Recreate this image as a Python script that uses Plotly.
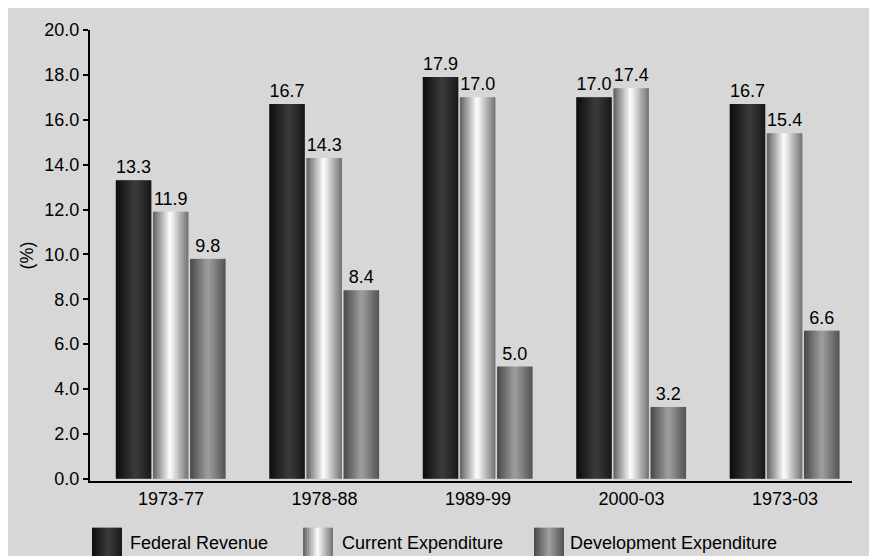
import plotly.graph_objects as go

categories = ["1973-77", "1978-88", "1989-99", "2000-03", "1973-03"]
federal_revenue = [13.3, 16.7, 17.9, 17.0, 16.7]
current_expenditure = [11.9, 14.3, 17.0, 17.4, 15.4]
development_expenditure = [9.8, 8.4, 5.0, 3.2, 6.6]
series_names = ["Federal Revenue", "Current Expenditure", "Development Expenditure"]
y_ticks = [0, 2, 4, 6, 8, 10, 12, 14, 16, 18, 20]

# styling: gradient stops (position, grey level) for each series
gradients = [
    [(0.0, 12), (0.55, 60), (1.0, 24)],
    [(0.0, 95), (0.48, 255), (1.0, 112)],
    [(0.0, 72), (0.5, 160), (1.0, 82)],
]
offsets = [-0.36, -0.118, 0.124]
bar_w = 0.232
N = 16
FONT = "Liberation Sans, Arial"
FS = 18


def grey_at(stops, t):
    for (p0, g0), (p1, g1) in zip(stops[:-1], stops[1:]):
        if p0 <= t <= p1:
            f = (t - p0) / (p1 - p0)
            g = round(g0 + (g1 - g0) * f)
            return f"rgb({g},{g},{g})"
    g = stops[-1][1]
    return f"rgb({g},{g},{g})"


xs = list(range(len(categories)))
fig = go.Figure()
all_series = [federal_revenue, current_expenditure, development_expenditure]
step = bar_w / N
for s, vals in enumerate(all_series):
    for i in range(N):
        t = (i + 0.5) / N
        w = step * 1.4 if i < N - 1 else step
        fig.add_trace(go.Bar(
            x=xs, y=vals, offset=offsets[s] + i * step, width=w,
            marker=dict(color=grey_at(gradients[s], t), line=dict(width=0)),
            showlegend=False, hoverinfo="skip",
        ))
for s, vals in enumerate(all_series):
    fig.add_trace(go.Bar(
        x=xs, y=vals, offset=offsets[s], width=bar_w, name=series_names[s],
        marker=dict(color="rgba(0,0,0,0)", line=dict(width=0)),
        text=[f"{v:.1f}" for v in vals], textposition="outside",
        textfont=dict(size=FS, color="black", family=FONT),
        cliponaxis=False, showlegend=False, hoverinfo="skip",
    ))

W, H = 864, 560
ml, mr, mt, mb = 82, 20, 19, 87
pw, ph = W - ml - mr, H - mt - mb
PAGE = 8  # body margin of the html page


def px_x(px):
    return (px - PAGE - ml) / pw


def px_y(py):
    return (H - mb - (py - PAGE)) / ph


shapes = []
annotations = []
legend_pos = [(92, 128), (303, 340), (534, 568)]
for s, (sx, tx) in enumerate(legend_pos):
    sw = 30
    M = 15
    for i in range(M):
        t = (i + 0.5) / M
        shapes.append(dict(type="rect", xref="paper", yref="paper",
                           x0=px_x(sx + i * sw / M),
                           x1=px_x(sx + (i + 1.3) * sw / M if i < M - 1 else sx + sw),
                           y0=px_y(562), y1=px_y(528),
                           fillcolor=grey_at(gradients[s], t), line=dict(width=0)))
    annotations.append(dict(xref="paper", yref="paper", x=px_x(tx), y=px_y(543),
                            xanchor="left", yanchor="middle", showarrow=False,
                            text=series_names[s],
                            font=dict(size=FS, color="black", family=FONT)))

fig.update_layout(
    width=W, height=H, margin=dict(l=ml, r=mr, t=mt, b=mb),
    paper_bgcolor="#d7d7d7", plot_bgcolor="rgba(0,0,0,0)",
    barmode="overlay", showlegend=False,
    font=dict(family=FONT, size=FS, color="black"),
    shapes=shapes, annotations=annotations,
    xaxis=dict(range=[-0.528, 4.437], tickvals=xs, ticktext=categories,
               showline=True, linecolor="black", linewidth=2, ticks="",
               showgrid=False, zeroline=False, fixedrange=True),
    yaxis=dict(range=[-0.1, 20], tickvals=y_ticks, tickformat=".1f",
               showline=True, linecolor="black", linewidth=2,
               ticks="outside", ticklen=5, tickwidth=2, tickcolor="black",
               showgrid=False, zeroline=False, fixedrange=True,
               title=dict(text="(%)", standoff=6, font=dict(size=FS))),
)
fig.write_html("out.html")
